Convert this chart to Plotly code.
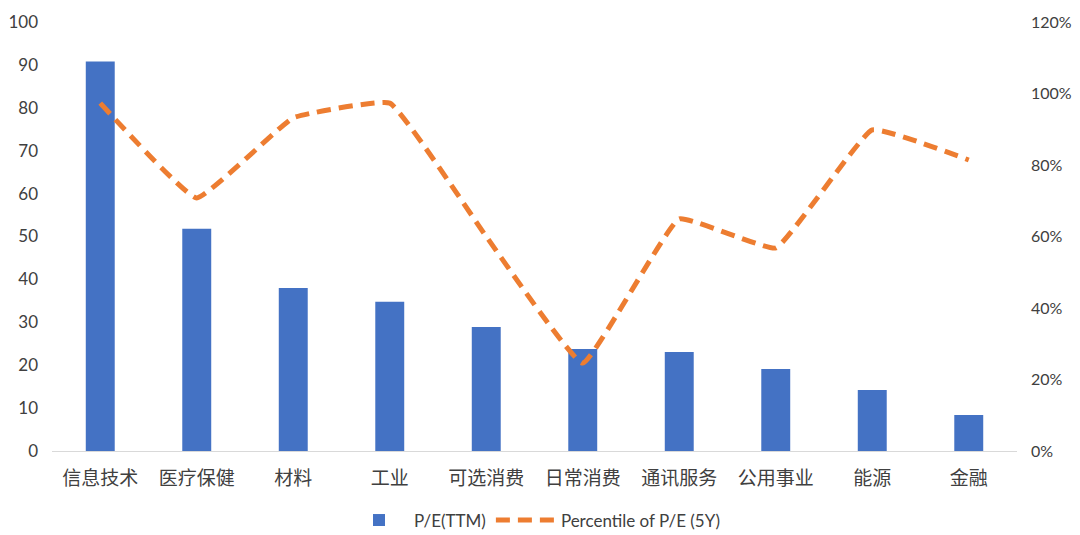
import plotly.graph_objects as go

categories = ["信息技术", "医疗保健", "材料", "工业", "可选消费", "日常消费", "通讯服务", "公用事业", "能源", "金融"]
pe_ttm = [90.8, 51.8, 38.0, 34.8, 28.9, 23.8, 23.1, 19.1, 14.2, 8.4]
percentile_5y = [0.973, 0.708, 0.932, 0.973, 0.60, 0.246, 0.649, 0.568, 0.898, 0.814]

left_ticks = [0, 10, 20, 30, 40, 50, 60, 70, 80, 90, 100]
right_ticks = [0, 0.2, 0.4, 0.6, 0.8, 1.0, 1.2]
right_tick_text = ["0%", "20%", "40%", "60%", "80%", "100%", "120%"]

fig = go.Figure()
fig.add_trace(go.Bar(
    x=categories, y=pe_ttm, name="P/E(TTM)",
    marker=dict(color="#4472C4", line=dict(width=0)),
    yaxis="y",
))
fig.add_trace(go.Scatter(
    x=categories, y=percentile_5y, name="Percentile of P/E (5Y)",
    mode="lines",
    line=dict(color="#ED7D31", width=5, dash="14px,8px", shape="spline", smoothing=0.3),
    yaxis="y2",
))

fig.update_layout(
    width=1072, height=527,
    margin=dict(l=44, r=63, t=14, b=84, autoexpand=False),
    paper_bgcolor="white", plot_bgcolor="white",
    bargap=0.7,
    font=dict(family="Lato, 'Noto Sans', sans-serif", size=17, color="#404040"),
    xaxis=dict(
        showgrid=False, showline=True, linecolor="#D9D9D9", linewidth=1,
        ticks="", tickfont=dict(family="'Noto Sans CJK SC', sans-serif", size=19, color="#404040"),
        ticklabelstandoff=10, automargin=False,
    ),
    yaxis=dict(
        range=[0, 100], tickvals=left_ticks, showgrid=False, zeroline=False,
        showline=False, ticks="", ticklabelstandoff=13, automargin=False,
    ),
    yaxis2=dict(
        range=[0, 1.2], tickvals=right_ticks, ticktext=right_tick_text,
        overlaying="y", side="right", showgrid=False, zeroline=False,
        showline=False, ticks="", ticklabelstandoff=13, automargin=False,
        tickfont=dict(size=16),
    ),
    legend=dict(
        orientation="h", x=0.5, xanchor="center", y=-0.12, yanchor="top",
        font=dict(family="Lato, 'Noto Sans', sans-serif", size=17, color="#404040"),
        itemwidth=60,
    ),
    showlegend=True,
)

fig.write_html("out.html")
